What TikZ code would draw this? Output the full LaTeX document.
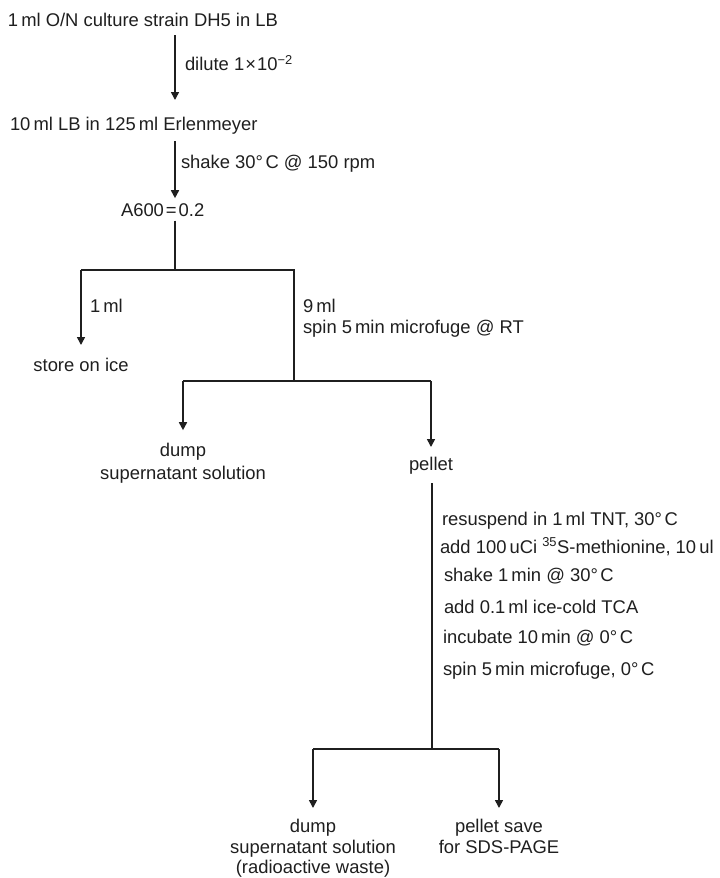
\documentclass[tikz,border=0pt]{standalone}
\usepackage{fontspec}
\setmainfont{Liberation Sans}
\usetikzlibrary{arrows.meta}
\newcommand\diagfont{\fontsize{18.4pt}{22pt}\selectfont}
\newcommand\degC{°\kern2.5pt C}
\begin{document}
\begin{tikzpicture}[x=1pt,y=-1pt,
  every node/.style={font=\diagfont, text=black!88, inner sep=0pt, outer sep=0pt, text height=13.5pt, text depth=4pt},
  lbl/.style={anchor=base west},
  ctr/.style={anchor=base},
  arr/.style={draw=black!88, line width=1.6pt, -{Triangle[width=8pt,length=8pt]}},
  trunk/.style={draw=black!88, line width=2.4pt},
]
\useasboundingbox[fill=white] (0,0) rectangle (720,878);
% nodes
\node[lbl] (n1) at (8,26.5) {1\,ml O/N culture strain DH5 in LB};
\node[lbl] (l1) at (185,70.7) {dilute 1\kern1pt×\kern1pt 10\textsuperscript{−2}};
\node[lbl] (n2) at (10,130) {10\,ml LB in 125\,ml Erlenmeyer};
\node[lbl] (l2) at (181,168) {shake 30\degC{} @ 150 rpm};
\node[lbl] (n3) at (121,216.7) {A600\kern2pt=\kern2pt 0.2};
\node[lbl] (l3) at (90,312.7) {1\,ml};
\node[ctr] (n4) at (81,371) {store on ice};
\node[lbl] (l4a) at (303,312.7) {9\,ml};
\node[lbl] (l4b) at (303,333) {spin 5\,min microfuge @ RT};
\node[ctr] (d1) at (183,456.7) {dump};
\node[ctr] (d1b) at (183,479) {supernatant solution};
\node[ctr] (p1) at (431,470) {pellet};
\node[lbl] (s1) at (442,525) {resuspend in 1\,ml TNT, 30\degC};
\node[lbl] (s2) at (440,553) {add 100\,uCi \textsuperscript{35}S-methionine, 10\,ul};
\node[lbl] (s3) at (444,581) {shake 1\,min @ 30\degC};
\node[lbl] (s4) at (444,613) {add 0.1\,ml ice-cold TCA};
\node[lbl] (s5) at (443,643) {incubate 10\,min @ 0\degC};
\node[lbl] (s6) at (443,675) {spin 5\,min microfuge, 0\degC};
\node[ctr] (d2) at (313,832) {dump};
\node[ctr] (d2b) at (313,853) {supernatant solution};
\node[ctr] (d2c) at (313,873) {(radioactive waste)};
\node[ctr] (p2) at (499,832) {pellet save};
\node[ctr] (p2b) at (499,853) {for SDS-PAGE};
% junction coordinates
\coordinate (ax) at (175,0);
\coordinate (j1) at (175,270);
\coordinate (j1l) at (81,270);
\coordinate (j1r) at (294,270);
\coordinate (j2) at (294,381);
\coordinate (j2l) at (183,381);
\coordinate (j2r) at (431,381);
\coordinate (j3) at (432,749);
\coordinate (j3l) at (313,749);
\coordinate (j3r) at (499,749);
% connectors
\draw[arr] ([yshift=-4.5pt]n1.south -| ax) -- ([yshift=16.5pt]n2.north -| ax);
\draw[arr] ([yshift=-7pt]n2.south -| ax) -- ([yshift=5pt]n3.north -| ax);
\draw[trunk] (n3.south -| ax) -- (j1);
\draw[trunk] (j1l) -- (j1r) -- (j2);
\draw[arr] (j1l) -- ([yshift=12.5pt]n4.north);
\draw[trunk] (j2l) -- (j2r);
\draw[arr] (j2l) -- ([yshift=13pt]d1.north);
\draw[arr] (j2r) -- ([yshift=9.5pt]p1.north);
\draw[trunk] ([yshift=-9pt]p1.south -| j3) -- (j3);
\draw[trunk] (j3l) -- (j3r);
\draw[arr] (j3l) -- ([yshift=10.5pt]d2.north);
\draw[arr] (j3r) -- ([yshift=10.5pt]p2.north);
\end{tikzpicture}
\end{document}
